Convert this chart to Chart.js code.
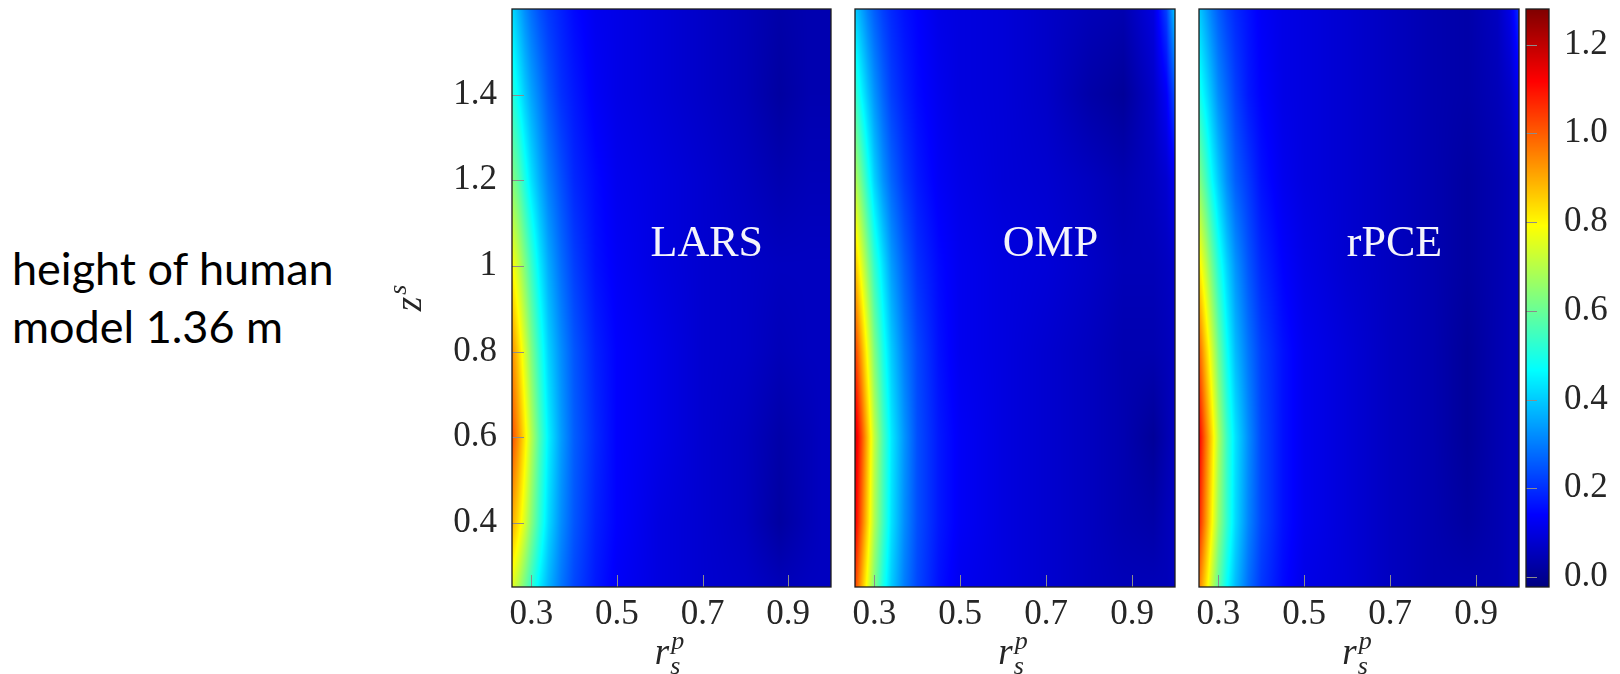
<!DOCTYPE html>
<html>
<head>
<meta charset="utf-8">
<script src="https://cdn.jsdelivr.net/npm/chart.js@4.4.0/dist/chart.umd.min.js"></script>
<style>
  body { margin: 0; background: #fff; width: 1620px; height: 674px; overflow: hidden; position: relative; }
  canvas { position: absolute; top: 0; }
  .note { position: absolute; left: 12px; top: 239px; font: 45px Lato, sans-serif; line-height: 58px; color: #000; }
</style>
</head>
<body>
<div class="note">height of human<br>model 1.36 m</div>
<canvas id="lars" width="460" height="674" style="left:380px"></canvas>
<canvas id="omp" width="345" height="674" style="left:840px"></canvas>
<canvas id="rpce" width="345" height="674" style="left:1184px"></canvas>
<canvas id="cbar" width="110" height="674" style="left:1510px"></canvas>
<script>
// grid nodes: r_s^p columns, z^s rows (rows listed bottom to top)
var rsGrid = [0.255, 0.27, 0.285, 0.30, 0.32, 0.34, 0.37, 0.40, 0.45, 0.50, 0.60, 0.70, 0.80, 0.88, 0.95, 0.98, 1.0];
var zsGrid = [0.25, 0.4, 0.6, 0.8, 1.0, 1.2, 1.4, 1.6];

var larsErr = [
    [0.76, 0.69, 0.61, 0.53, 0.44, 0.37, 0.29, 0.23, 0.17, 0.13, 0.10, 0.08, 0.07, 0.05, 0.06, 0.06, 0.06],
    [0.90, 0.83, 0.74, 0.64, 0.52, 0.42, 0.32, 0.25, 0.18, 0.14, 0.10, 0.08, 0.06, 0.02, 0.05, 0.06, 0.06],
    [1.02, 0.93, 0.82, 0.70, 0.56, 0.45, 0.34, 0.26, 0.19, 0.14, 0.11, 0.08, 0.06, 0.03, 0.05, 0.06, 0.06],
    [0.94, 0.85, 0.74, 0.63, 0.51, 0.41, 0.32, 0.25, 0.18, 0.14, 0.11, 0.08, 0.07, 0.05, 0.06, 0.06, 0.06],
    [0.80, 0.72, 0.63, 0.54, 0.44, 0.36, 0.28, 0.22, 0.16, 0.13, 0.10, 0.08, 0.07, 0.06, 0.06, 0.06, 0.06],
    [0.64, 0.58, 0.50, 0.43, 0.36, 0.30, 0.24, 0.19, 0.15, 0.12, 0.10, 0.08, 0.06, 0.04, 0.05, 0.05, 0.05],
    [0.52, 0.46, 0.40, 0.35, 0.30, 0.25, 0.20, 0.17, 0.13, 0.11, 0.09, 0.07, 0.05, 0.02, 0.04, 0.04, 0.04],
    [0.42, 0.37, 0.32, 0.28, 0.24, 0.21, 0.18, 0.15, 0.12, 0.11, 0.09, 0.07, 0.05, 0.03, 0.04, 0.04, 0.04]
];
var ompErr = [
    [1.04, 0.90, 0.76, 0.63, 0.50, 0.40, 0.30, 0.23, 0.16, 0.12, 0.10, 0.08, 0.06, 0.05, 0.05, 0.05, 0.06],
    [1.14, 0.99, 0.84, 0.69, 0.55, 0.43, 0.32, 0.24, 0.17, 0.13, 0.10, 0.08, 0.06, 0.04, 0.03, 0.05, 0.06],
    [1.18, 1.03, 0.87, 0.71, 0.56, 0.44, 0.33, 0.24, 0.17, 0.13, 0.10, 0.08, 0.06, 0.04, 0.01, 0.04, 0.06],
    [1.05, 0.91, 0.77, 0.63, 0.50, 0.40, 0.30, 0.23, 0.16, 0.12, 0.10, 0.08, 0.06, 0.04, 0.04, 0.05, 0.06],
    [0.88, 0.76, 0.64, 0.53, 0.43, 0.34, 0.26, 0.20, 0.15, 0.12, 0.10, 0.09, 0.07, 0.05, 0.05, 0.06, 0.07],
    [0.70, 0.60, 0.50, 0.41, 0.33, 0.27, 0.21, 0.17, 0.13, 0.11, 0.09, 0.08, 0.06, 0.04, 0.06, 0.08, 0.12],
    [0.54, 0.46, 0.39, 0.33, 0.27, 0.22, 0.18, 0.15, 0.12, 0.10, 0.09, 0.07, 0.03, 0.01, 0.07, 0.13, 0.24],
    [0.40, 0.35, 0.30, 0.26, 0.22, 0.19, 0.16, 0.14, 0.11, 0.10, 0.09, 0.07, 0.05, 0.04, 0.10, 0.22, 0.40]
];
var rpceErr = [
    [0.96, 0.84, 0.71, 0.59, 0.47, 0.38, 0.28, 0.21, 0.15, 0.11, 0.09, 0.06, 0.04, 0.04, 0.04, 0.05, 0.05],
    [1.08, 0.94, 0.80, 0.66, 0.53, 0.42, 0.31, 0.23, 0.16, 0.12, 0.09, 0.06, 0.04, 0.02, 0.04, 0.05, 0.05],
    [1.13, 0.98, 0.84, 0.69, 0.54, 0.43, 0.32, 0.23, 0.16, 0.12, 0.09, 0.06, 0.04, 0.01, 0.04, 0.05, 0.05],
    [1.00, 0.87, 0.74, 0.61, 0.48, 0.38, 0.29, 0.22, 0.16, 0.12, 0.09, 0.06, 0.04, 0.01, 0.04, 0.05, 0.05],
    [0.82, 0.72, 0.61, 0.51, 0.41, 0.33, 0.25, 0.19, 0.14, 0.11, 0.08, 0.06, 0.04, 0.02, 0.04, 0.05, 0.06],
    [0.64, 0.56, 0.47, 0.40, 0.32, 0.26, 0.21, 0.16, 0.12, 0.10, 0.08, 0.06, 0.04, 0.02, 0.04, 0.05, 0.07],
    [0.50, 0.44, 0.38, 0.32, 0.27, 0.22, 0.17, 0.14, 0.11, 0.10, 0.08, 0.06, 0.04, 0.03, 0.05, 0.07, 0.12],
    [0.40, 0.35, 0.30, 0.26, 0.22, 0.19, 0.16, 0.13, 0.11, 0.10, 0.08, 0.06, 0.04, 0.03, 0.06, 0.11, 0.20]
];

var methods = ['LARS', 'OMP', 'rPCE'];
var xTicks = [0.3, 0.5, 0.7, 0.9];
var yTicks = [0.4, 0.6, 0.8, 1, 1.2, 1.4];
var cbarTicks = [0.0, 0.2, 0.4, 0.6, 0.8, 1.0, 1.2];
var rsRange = [0.255, 1.0];
var zsRange = [0.25, 1.6];
var colorLimits = [-0.0225, 1.28];

// pgfplots style jet
var jetStops = [[0, 0, 0, 0.5], [0.125, 0, 0, 1], [0.375, 0, 1, 1], [0.625, 1, 1, 0], [0.875, 1, 0, 0], [1, 0.5, 0, 0]];

function jet(t) {
    t = Math.min(1, Math.max(0, t));
    for (var k = 1; k < jetStops.length; k++) {
        var a = jetStops[k - 1], b = jetStops[k];
        if (t <= b[0]) {
            var f = (t - a[0]) / (b[0] - a[0]);
            return [1, 2, 3].map(function(c) { return Math.round(255 * (a[c] + f * (b[c] - a[c]))); });
        }
    }
    return [128, 0, 0];
}

function toColor(v) {
    return jet((v - colorLimits[0]) / (colorLimits[1] - colorLimits[0]));
}

function nodes(rows) {
    var pts = [];
    zsGrid.forEach(function(z, j) {
        rsGrid.forEach(function(r, i) { pts.push({ x: r, y: z, v: rows[j][i] }); });
    });
    return pts;
}

var serif = '"Liberation Serif", "DejaVu Serif", serif';
var tickFont = { family: serif, size: 35 };
var tickColor = '#262626';

// interp shading of the node values, like shader=interp
var fieldShader = {
    id: 'fieldShader',
    beforeDatasetsDraw: function(chart) {
        var ds = chart.data.datasets[0];
        if (!ds || !ds.data.length) return;
        var ctx = chart.ctx, a = chart.chartArea, sx = chart.scales.x, sy = chart.scales.y;
        var xs = [], ys = [];
        ds.data.forEach(function(p) {
            if (xs.indexOf(p.x) < 0) xs.push(p.x);
            if (ys.indexOf(p.y) < 0) ys.push(p.y);
        });
        xs.sort(function(p, q) { return p - q; });
        ys.sort(function(p, q) { return p - q; });
        var grid = ys.map(function() { return []; });
        ds.data.forEach(function(p) { grid[ys.indexOf(p.y)][xs.indexOf(p.x)] = p.v; });

        function locate(arr, v) {
            var i = 0;
            while (i < arr.length - 2 && v > arr[i + 1]) i++;
            var f = (v - arr[i]) / (arr[i + 1] - arr[i]);
            return [i, Math.min(1, Math.max(0, f))];
        }
        var w = Math.round(a.right - a.left), h = Math.round(a.bottom - a.top);
        var cols = [], rows = [];
        for (var px = 0; px < w; px++) cols.push(locate(xs, sx.getValueForPixel(a.left + px + 0.5)));
        for (var py = 0; py < h; py++) rows.push(locate(ys, sy.getValueForPixel(a.top + py + 0.5)));

        var off = document.createElement('canvas');
        off.width = w; off.height = h;
        var octx = off.getContext('2d');
        var img = octx.createImageData(w, h);
        for (py = 0; py < h; py++) {
            var j = rows[py][0], g = rows[py][1];
            for (px = 0; px < w; px++) {
                var i = cols[px][0], f = cols[px][1];
                var lo = (1 - f) * grid[j][i] + f * grid[j][i + 1];
                var hi = (1 - f) * grid[j + 1][i] + f * grid[j + 1][i + 1];
                var c = toColor((1 - g) * lo + g * hi);
                var o = (py * w + px) * 4;
                img.data[o] = c[0]; img.data[o + 1] = c[1]; img.data[o + 2] = c[2]; img.data[o + 3] = 255;
            }
        }
        octx.putImageData(img, 0, 0);
        ctx.drawImage(off, a.left, a.top);
    }
};

function drawScript(ctx, x, y, base, sub, sup, size) {
    var small = Math.round(size * 0.7);
    ctx.textAlign = 'left';
    ctx.textBaseline = 'alphabetic';
    ctx.font = 'italic ' + size + 'px ' + serif;
    var bw = ctx.measureText(base).width;
    ctx.font = 'italic ' + small + 'px ' + serif;
    var sw = Math.max(sub ? ctx.measureText(sub).width : 0, sup ? ctx.measureText(sup).width : 0);
    var x0 = x - (bw + 2 + sw) / 2;
    ctx.font = 'italic ' + size + 'px ' + serif;
    ctx.fillText(base, x0, y);
    ctx.font = 'italic ' + small + 'px ' + serif;
    if (sup) ctx.fillText(sup, x0 + bw + 2, y - size * 0.4);
    if (sub) ctx.fillText(sub, x0 + bw + 1, y + size * 0.28);
}

// frame, inward ticks, method name and axis titles
var panelDecor = {
    id: 'panelDecor',
    afterDraw: function(chart, args, opts) {
        var ctx = chart.ctx, a = chart.chartArea, sx = chart.scales.x, sy = chart.scales.y;
        ctx.save();
        ctx.strokeStyle = '#8c8c8c';
        ctx.lineWidth = 1;
        ctx.beginPath();
        if (sx.options.display) {
            sx.ticks.forEach(function(t) {
                var px = Math.round(sx.getPixelForValue(t.value)) + 0.5;
                ctx.moveTo(px, a.bottom); ctx.lineTo(px, a.bottom - 12);
            });
        }
        if (sy.options.display) {
            sy.ticks.forEach(function(t) {
                var py = Math.round(sy.getPixelForValue(t.value)) + 0.5;
                ctx.moveTo(a.left, py); ctx.lineTo(a.left + (sy.options.position === 'right' ? 11 : 12), py);
            });
        }
        ctx.stroke();
        ctx.strokeStyle = '#1c1c1c';
        ctx.lineWidth = 1.3;
        ctx.strokeRect(a.left, a.top, a.right - a.left, a.bottom - a.top);

        if (opts.name) {
            ctx.fillStyle = '#f4f4fb';
            ctx.font = '44px ' + serif;
            ctx.textAlign = 'center';
            ctx.textBaseline = 'middle';
            ctx.fillText(opts.name, sx.getPixelForValue(opts.nameAt[0]), sy.getPixelForValue(opts.nameAt[1]));
        }
        ctx.fillStyle = tickColor;
        if (opts.xTitle) drawScript(ctx, (a.left + a.right) / 2 - 2, 664, 'r', 's', 'p', 37);
        if (opts.yTitle) {
            ctx.translate(opts.yTitle[0], opts.yTitle[1]);
            ctx.rotate(-Math.PI / 2);
            drawScript(ctx, 0, 0, 'z', null, 's', 37);
        }
        ctx.restore();
    }
};

// keep the plot box fixed: no extra room for overhanging tick labels
function fixBox(w, h) {
    return function(s) {
        if (w !== null) s.width = w;
        if (h !== null) s.height = h;
        s.paddingLeft = 0; s.paddingRight = 0; s.paddingTop = 0; s.paddingBottom = 0;
    };
}

function makePanel(id, rows, name, first) {
    return new Chart(document.getElementById(id), {
        type: 'scatter',
        data: {
            datasets: [{ data: nodes(rows), pointRadius: 0, pointHoverRadius: 0, showLine: false }]
        },
        plugins: [fieldShader, panelDecor],
        options: {
            responsive: false,
            animation: false,
            events: [],
            layout: { padding: first ? { top: 9, right: 9, left: 0, bottom: 0 } : { top: 9, right: 10, left: 15, bottom: 0 } },
            plugins: {
                legend: { display: false },
                tooltip: { enabled: false },
                panelDecor: { name: name, nameAt: [0.71, 1.05], xTitle: true, yTitle: first ? [41, 298] : null }
            },
            scales: {
                x: {
                    type: 'linear', min: rsRange[0], max: rsRange[1],
                    afterBuildTicks: function(s) { s.ticks = xTicks.map(function(v) { return { value: v }; }); },
                    afterFit: fixBox(null, 87),
                    grid: { display: false, drawTicks: false },
                    border: { display: false },
                    ticks: { padding: 7, autoSkip: false, maxRotation: 0, font: tickFont, color: tickColor,
                             callback: function(v) { return v.toFixed(1); } }
                },
                y: {
                    display: first,
                    type: 'linear', min: zsRange[0], max: zsRange[1],
                    afterBuildTicks: function(s) { s.ticks = yTicks.map(function(v) { return { value: v }; }); },
                    afterFit: fixBox(first ? 132 : 0, null),
                    grid: { display: false, drawTicks: false },
                    border: { display: false },
                    ticks: { padding: 15, autoSkip: false, font: tickFont, color: tickColor,
                             callback: function(v) { return String(v); } }
                }
            }
        }
    });
}

makePanel('lars', larsErr, methods[0], true);
makePanel('omp', ompErr, methods[1], false);
makePanel('rpce', rpceErr, methods[2], false);

// colour bar
var colorBar = {
    id: 'colorBar',
    beforeDatasetsDraw: function(chart) {
        var ctx = chart.ctx, a = chart.chartArea, sy = chart.scales.y;
        for (var py = Math.floor(a.top); py < Math.ceil(a.bottom); py++) {
            var c = toColor(sy.getValueForPixel(py + 0.5));
            ctx.fillStyle = 'rgb(' + c[0] + ',' + c[1] + ',' + c[2] + ')';
            ctx.fillRect(a.left, py, a.right - a.left, 1);
        }
    }
};

new Chart(document.getElementById('cbar'), {
    type: 'scatter',
    data: { datasets: [{ data: [], pointRadius: 0 }] },
    plugins: [colorBar, panelDecor],
    options: {
        responsive: false,
        animation: false,
        events: [],
        layout: { padding: { top: 9, bottom: 87, left: 16, right: 0 } },
        plugins: { legend: { display: false }, tooltip: { enabled: false }, panelDecor: {} },
        scales: {
            x: { display: false, type: 'linear', min: 0, max: 1, afterFit: fixBox(null, 0) },
            y: {
                position: 'right',
                type: 'linear', min: colorLimits[0], max: colorLimits[1],
                afterBuildTicks: function(s) { s.ticks = cbarTicks.map(function(v) { return { value: v }; }); },
                afterFit: fixBox(71, null),
                grid: { display: false, drawTicks: false },
                border: { display: false },
                ticks: { padding: 15, autoSkip: false, font: tickFont, color: tickColor,
                         callback: function(v) { return v.toFixed(1); } }
            }
        }
    }
});
</script>
</body>
</html>
